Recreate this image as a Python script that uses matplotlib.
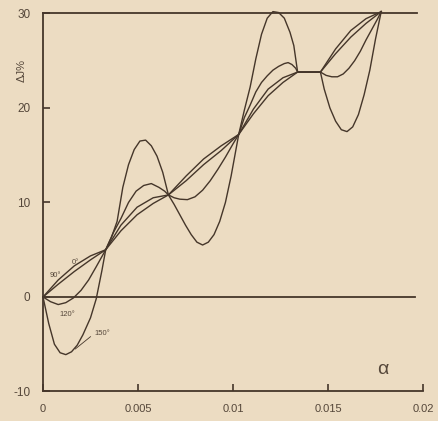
import matplotlib
matplotlib.use("Agg")
import matplotlib.pyplot as plt

# ---- data ----
x150 = [0, 0.0003, 0.0006, 0.0009, 0.0012, 0.0015, 0.0018, 0.0021, 0.0025, 0.0028, 0.0031, 0.0033,
        0.0036, 0.0039, 0.0042, 0.0045, 0.0048, 0.0051, 0.0054, 0.0057, 0.0060, 0.0063, 0.0066,
        0.0069, 0.0072, 0.0075, 0.0078, 0.0081, 0.0084, 0.0087, 0.0090, 0.0093, 0.0096, 0.0099, 0.0103,
        0.0106, 0.0109, 0.0112, 0.0115, 0.0118, 0.0121, 0.0124, 0.0127, 0.0130, 0.0132, 0.0134,
        0.0146, 0.0148, 0.0151, 0.0154, 0.0157, 0.0160, 0.0163, 0.0166, 0.0169, 0.0172, 0.0175, 0.0178]
y150 = [0, -2.8, -5.0, -5.9, -6.1, -5.8, -5.1, -4.0, -2.2, -0.2, 2.8, 5.0,
        6.3, 8.0, 11.6, 14.0, 15.6, 16.5, 16.6, 16.0, 14.9, 13.2, 10.8,
        9.8, 8.7, 7.6, 6.6, 5.8, 5.5, 5.8, 6.6, 8.0, 10.0, 12.8, 17.2,
        19.8, 22.2, 25.2, 27.8, 29.5, 30.2, 30.1, 29.5, 28.0, 26.6, 23.8,
        23.8, 22.0, 20.0, 18.6, 17.7, 17.5, 18.0, 19.3, 21.4, 24.0, 27.3, 30.2]

x120 = [0, 0.0004, 0.0008, 0.0012, 0.0016, 0.0020, 0.0024, 0.0028, 0.0033,
        0.0037, 0.0041, 0.0045, 0.0049, 0.0053, 0.0057, 0.0061, 0.0064, 0.0066,
        0.0069, 0.0072, 0.0076, 0.0080, 0.0084, 0.0088, 0.0092, 0.0096, 0.0100, 0.0103,
        0.0106, 0.0109, 0.0112, 0.0115, 0.0118, 0.0121, 0.0124, 0.0127, 0.0129, 0.0131, 0.0133, 0.0134,
        0.0146, 0.0149, 0.0152, 0.0155, 0.0158, 0.0161, 0.0164, 0.0167, 0.0170, 0.0173, 0.0176, 0.0178]
y120 = [0, -0.5, -0.8, -0.6, -0.1, 0.7, 1.8, 3.2, 5.0,
        6.8, 8.3, 10.0, 11.2, 11.8, 12.0, 11.6, 11.2, 10.8,
        10.5, 10.35, 10.3, 10.6, 11.3, 12.3, 13.5, 14.8, 16.2, 17.2,
        19.0, 20.3, 21.7, 22.7, 23.4, 24.0, 24.4, 24.7, 24.8, 24.6, 24.2, 23.8,
        23.8, 23.45, 23.3, 23.3, 23.6, 24.2, 25.0, 26.0, 27.2, 28.3, 29.4, 30.2]

x_low = [0, 0.0008, 0.00165, 0.0025, 0.0033, 0.0041, 0.00495, 0.0058, 0.0066,
         0.00753, 0.00845, 0.00938, 0.0103, 0.01108, 0.01185, 0.01263, 0.0134,
         0.0146, 0.0154, 0.0162, 0.0170, 0.0178]
y0 = [0, 1.8, 3.3, 4.35, 5.0, 7.6, 9.5, 10.5, 10.8,
      12.8, 14.6, 16.0, 17.2, 19.9, 22.0, 23.2, 23.8,
      23.8, 26.25, 28.2, 29.45, 30.2]
y90 = [0, 1.35, 2.7, 3.93, 5.0, 7.0, 8.7, 9.9, 10.8,
       12.3, 14.0, 15.5, 17.2, 19.4, 21.3, 22.7, 23.8,
       23.8, 25.75, 27.5, 28.95, 30.2]

xticks = [0, 0.005, 0.01, 0.015, 0.02]
xticklabels = ["0", "0.005", "0.01", "0.015", "0.02"]
yticks = [-10, 0, 10, 20, 30]
yticklabels = ["-10", "0", "10", "20", "30"]

# ---- style ----
bg = "#ecdcc2"
ink = "#45362a"
txt = "#55473a"
plt.rcParams["font.family"] = ["Liberation Sans", "DejaVu Sans"]

fig = plt.figure(figsize=(4.38, 4.21), dpi=100, facecolor=bg)
ax = fig.add_axes([0.0982, 0.0701, 0.8676, 0.8979], facecolor=bg)

lw = 1.0
for xs, ys in [(x150, y150), (x120, y120), (x_low, y0), (x_low, y90)]:
    ax.plot(xs, ys, color=ink, lw=lw, solid_joinstyle="round", clip_on=False)

ax.plot([0, 0.0196], [0, 0], color=ink, lw=1.3)
ax.plot([0, 0.0197], [30, 30], color=ink, lw=1.3, clip_on=False)

ax.set_xlim(0, 0.02)
ax.set_ylim(-10, 30)
for s in ["top", "right"]:
    ax.spines[s].set_visible(False)
for s in ["left", "bottom"]:
    ax.spines[s].set_color(ink)
    ax.spines[s].set_linewidth(1.3)

ax.set_xticks(xticks)
ax.set_xticklabels(xticklabels)
ax.set_yticks(yticks)
ax.set_yticklabels(yticklabels)
ax.tick_params(axis="x", direction="in", length=5, width=1.2, color=ink, labelsize=8,
               labelcolor=txt, pad=9)
ax.tick_params(axis="y", direction="in", length=5, width=1.2, color=ink, labelsize=8.5,
               labelcolor=txt, pad=9)

ax.text(-0.0011, 24.0, "ΔJ%", rotation=90, ha="center", va="center", fontsize=8, color=txt)
ax.text(0.0179, -7.7, "α", ha="center", va="center", fontsize=14, color=txt)

ax.text(0.0017, 3.6, "0°", fontsize=5.5, color=txt, ha="center", va="center")
ax.text(0.00063, 2.3, "90°", fontsize=5.5, color=txt, ha="center", va="center")
ax.text(0.0013, -1.9, "120°", fontsize=5.5, color=txt, ha="center", va="center")
ax.text(0.0031, -3.9, "150°", fontsize=5.5, color=txt, ha="center", va="center")
ax.plot([0.0025, 0.0017], [-4.2, -5.5], color=ink, lw=0.6)

fig.savefig("out.png", dpi=100, facecolor=bg)
